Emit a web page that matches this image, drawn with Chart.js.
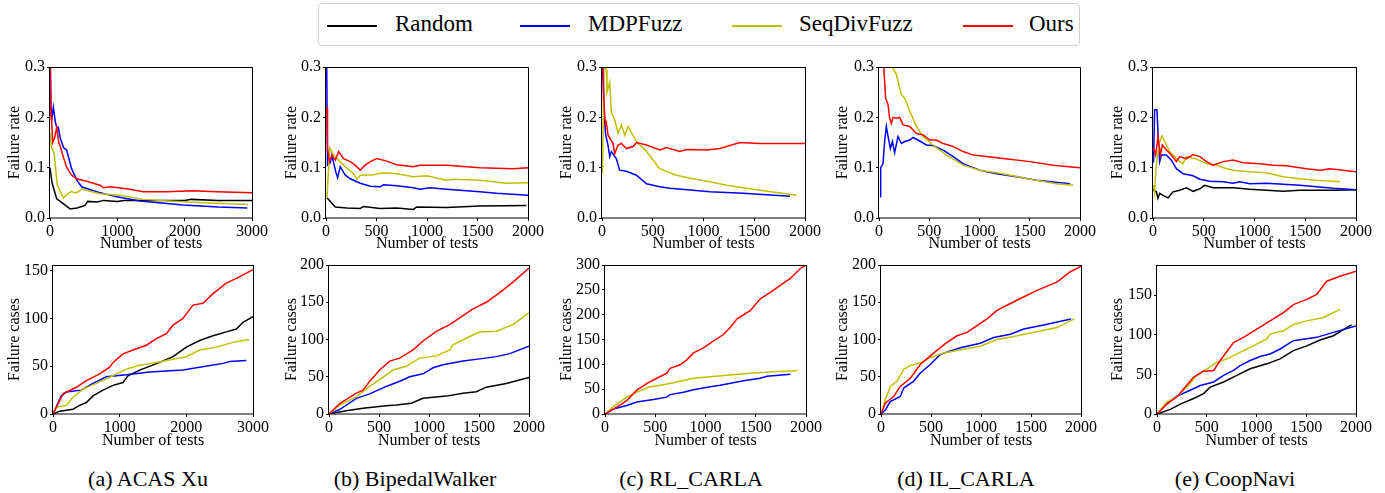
<!DOCTYPE html>
<html>
<head>
<meta charset="utf-8">
<script src="https://cdn.jsdelivr.net/npm/chart.js@4.4.1/dist/chart.umd.min.js"></script>
<style>
  html, body { margin:0; padding:0; background:#fff; }
  body { width:1385px; height:493px; position:relative; overflow:hidden; font-family:"Liberation Serif","Times New Roman",serif; }
  canvas { position:absolute; }
  #legend { position:absolute; left:318px; top:3px; width:760px; height:41px; border:1px solid #d0d0d0; border-radius:4px; box-sizing:content-box; }
  .lg-line { position:absolute; top:21px; height:2px; width:50px; }
  .lg-text { position:absolute; top:6px; font-size:23px; line-height:28px; color:#000; }
  .cap { position:absolute; top:465px; width:300px; text-align:center; font-size:22px; line-height:28px; color:#000; }
</style>
</head>
<body>
<div id="legend">
  <div class="lg-line" style="left:8px;background:#000"></div><div class="lg-text" style="left:76px">Random</div>
  <div class="lg-line" style="left:201px;background:#0000ff"></div><div class="lg-text" style="left:269px">MDPFuzz</div>
  <div class="lg-line" style="left:413px;background:#bfbf00"></div><div class="lg-text" style="left:480px">SeqDivFuzz</div>
  <div class="lg-line" style="left:644px;background:#ff0000"></div><div class="lg-text" style="left:710px">Ours</div>
</div>
<div class="cap" style="left:-2px">(a) ACAS Xu</div>
<div class="cap" style="left:265px">(b) BipedalWalker</div>
<div class="cap" style="left:541px">(c) RL_CARLA</div>
<div class="cap" style="left:816px">(d) IL_CARLA</div>
<div class="cap" style="left:1085px">(e) CoopNavi</div>

<canvas id="c1"></canvas><canvas id="c2"></canvas><canvas id="c3"></canvas><canvas id="c4"></canvas><canvas id="c5"></canvas>
<canvas id="c6"></canvas><canvas id="c7"></canvas><canvas id="c8"></canvas><canvas id="c9"></canvas><canvas id="c10"></canvas>

<script>
// ---------------- DATA ----------------
const seriesNames = ["Random", "MDPFuzz", "SeqDivFuzz", "Ours"];
const seriesColors = ["#000000", "#0000ff", "#bfbf00", "#ff0000"];
const captions = ["(a) ACAS Xu", "(b) BipedalWalker", "(c) RL_CARLA", "(d) IL_CARLA", "(e) CoopNavi"];
const rateTicks = [0.0, 0.1, 0.2, 0.3];

// (a) ACAS Xu - failure rate
const acasRate_Random = [[0,0.10],[30,0.07],[100,0.038],[200,0.028],[300,0.018],[400,0.02],[450,0.022],[520,0.025],[560,0.033],[700,0.032],[800,0.035],[1000,0.033],[1100,0.035],[1500,0.035],[2000,0.035],[2100,0.037],[2500,0.035],[3000,0.035]];
const acasRate_MDPFuzz = [[0,0.35],[15,0.22],[30,0.2],[50,0.22],[80,0.19],[100,0.18],[124,0.18],[150,0.16],[200,0.14],[247,0.135],[321,0.098],[400,0.075],[470,0.062],[692,0.052],[989,0.042],[1335,0.034],[1977,0.026],[2500,0.022],[2930,0.02]];
const acasRate_SeqDivFuzz = [[0,0.17],[20,0.14],[60,0.13],[109,0.065],[198,0.04],[260,0.048],[321,0.053],[370,0.05],[420,0.052],[470,0.058],[593,0.053],[742,0.048],[1038,0.045],[1384,0.037],[2027,0.032],[2941,0.027]];
const acasRate_Ours = [[0,0.35],[15,0.2],[25,0.19],[40,0.15],[70,0.16],[100,0.18],[130,0.15],[148,0.144],[200,0.12],[247,0.101],[320,0.085],[395,0.078],[543,0.073],[742,0.065],[800,0.06],[890,0.062],[1137,0.058],[1384,0.052],[1730,0.052],[2126,0.054],[2472,0.052],[3000,0.05]];
// (a) ACAS Xu - failure cases
const acasCases_Random = [[0,0],[100,3],[300,5],[400,9],[500,12],[600,19],[750,25],[900,30],[1050,33],[1125,40],[1300,46],[1600,54],[1800,60],[2000,70],[2200,77],[2400,82],[2600,86],[2750,89],[2850,96],[3000,102]];
const acasCases_MDPFuzz = [[0,0],[125,19],[200,23],[425,25],[600,32],[800,39],[1100,41],[1450,44],[1950,46],[2200,49],[2550,53],[2650,55],[2900,56]];
const acasCases_SeqDivFuzz = [[0,0],[50,7],[200,9],[300,17.5],[450,26],[650,32],[850,38.5],[1100,47],[1300,51],[1550,54],[1700,56],[2000,60],[2200,67],[2450,70],[2700,75],[2940,78]];
const acasCases_Ours = [[0,0],[150,21],[200,23],[350,28],[500,35],[700,42],[850,49],[900,54],[1050,63],[1200,67],[1400,72],[1550,79],[1700,84],[1800,93],[1950,100],[2100,114],[2250,116],[2400,126],[2600,137],[2750,142],[3000,151]];

// (b) BipedalWalker - failure rate
const bipedRate_Random = [[10,0.04],[92,0.022],[207,0.02],[339,0.019],[372,0.023],[536,0.019],[700,0.02],[865,0.017],[898,0.022],[1194,0.021],[1523,0.024],[1984,0.025]];
const bipedRate_MDPFuzz = [[5,0.35],[15,0.105],[43,0.11],[59,0.125],[92,0.095],[115,0.08],[141,0.102],[191,0.085],[240,0.078],[339,0.069],[438,0.063],[536,0.062],[569,0.066],[700,0.064],[865,0.06],[931,0.057],[1030,0.06],[1194,0.057],[1523,0.052],[1688,0.049],[2000,0.045]];
const bipedRate_SeqDivFuzz = [[10,0.04],[36,0.14],[76,0.125],[174,0.105],[273,0.088],[306,0.077],[339,0.085],[470,0.086],[569,0.09],[700,0.088],[865,0.082],[996,0.084],[1194,0.075],[1260,0.077],[1523,0.075],[1786,0.069],[2000,0.07]];
const bipedRate_Ours = [[10,0.22],[15,0.14],[33,0.112],[59,0.125],[92,0.115],[125,0.132],[174,0.118],[240,0.112],[289,0.105],[339,0.095],[388,0.105],[438,0.112],[503,0.118],[602,0.113],[700,0.106],[865,0.102],[931,0.105],[1194,0.105],[1523,0.1],[1852,0.098],[2000,0.1]];
// (b) BipedalWalker - failure cases
const bipedCases_Random = [[0,0],[173,4.5],[340,7.7],[573,11],[673,12],[823,14.4],[940,21],[1173,24],[1340,28],[1473,30],[1573,36],[1773,41],[2000,49]];
const bipedCases_MDPFuzz = [[0,0],[107,6],[273,21],[407,27],[573,37],[707,44],[807,50],[940,54],[1040,62],[1140,66],[1340,71],[1507,74],[1673,77],[1807,81],[2000,91]];
const bipedCases_SeqDivFuzz = [[0,0],[107,12],[273,23],[407,37],[507,46],[640,59],[773,64],[907,75],[1073,78],[1207,86],[1240,93],[1407,104],[1507,110],[1673,111],[1840,120],[2000,136]];
const bipedCases_Ours = [[0,0],[107,14],[273,28],[340,32],[407,44],[507,59],[607,71],[707,75],[840,86],[940,98],[1073,111],[1207,120],[1307,129],[1440,141],[1573,150],[1707,163],[1840,177],[2000,196]];

// (c) RL_CARLA - failure rate
const rlRate_MDPFuzz = [[0,0.35],[20,0.21],[36,0.165],[59,0.145],[76,0.122],[92,0.132],[141,0.118],[174,0.095],[240,0.093],[339,0.085],[438,0.068],[569,0.062],[668,0.059],[898,0.055],[1063,0.052],[1391,0.049],[1852,0.043]];
const rlRate_SeqDivFuzz = [[5,0.09],[20,0.3],[43,0.295],[49,0.25],[76,0.27],[92,0.21],[125,0.195],[158,0.168],[191,0.185],[224,0.165],[257,0.182],[339,0.152],[438,0.132],[569,0.098],[734,0.085],[898,0.078],[1063,0.072],[1227,0.065],[1556,0.055],[1918,0.045]];
const rlRate_Ours = [[0,0.35],[10,0.3],[20,0.225],[33,0.185],[43,0.19],[59,0.165],[109,0.148],[125,0.128],[158,0.145],[191,0.148],[240,0.138],[306,0.142],[339,0.15],[438,0.145],[569,0.135],[635,0.14],[766,0.132],[832,0.136],[1030,0.135],[1161,0.138],[1359,0.15],[1556,0.148],[1753,0.148],[2000,0.148]];
// (c) RL_CARLA - failure cases
const rlCases_MDPFuzz = [[0,0],[83,10],[216,17],[316,24],[482,29],[615,34],[648,39],[781,44],[880,49],[1047,55],[1146,58],[1379,67],[1545,72],[1611,76],[1844,80]];
const rlCases_SeqDivFuzz = [[0,0],[83,15],[216,34],[316,44],[449,55],[548,58],[681,63],[880,72],[1047,75],[1213,78],[1445,82],[1678,85],[1910,87]];
const rlCases_Ours = [[0,0],[116,14],[216,27],[316,48],[415,61],[515,72],[615,82],[648,92],[748,99],[814,109],[880,123],[980,133],[1080,147],[1179,160],[1246,174],[1312,191],[1445,208],[1545,232],[1645,245],[1744,259],[1844,273],[1944,293],[2000,300]];

// (d) IL_CARLA - failure rate
const ilRate_MDPFuzz = [[13,0.042],[17,0.1],[40,0.108],[56,0.152],[73,0.182],[90,0.162],[113,0.138],[133,0.152],[156,0.13],[189,0.162],[223,0.148],[256,0.152],[306,0.155],[339,0.16],[405,0.153],[472,0.145],[538,0.144],[638,0.135],[738,0.122],[837,0.108],[1003,0.095],[1169,0.088],[1369,0.082],[1568,0.075],[1900,0.068]];
const ilRate_SeqDivFuzz = [[100,0.35],[133,0.3],[173,0.285],[189,0.272],[223,0.245],[256,0.238],[306,0.212],[372,0.182],[439,0.162],[538,0.145],[671,0.125],[837,0.105],[1003,0.095],[1169,0.09],[1336,0.084],[1502,0.077],[1767,0.068],[1934,0.065]];
const ilRate_Ours = [[40,0.35],[47,0.3],[66,0.238],[90,0.225],[106,0.198],[123,0.188],[140,0.2],[173,0.198],[206,0.2],[239,0.185],[306,0.182],[372,0.168],[439,0.165],[505,0.155],[571,0.155],[638,0.148],[738,0.142],[837,0.132],[937,0.125],[1070,0.122],[1236,0.118],[1502,0.112],[1734,0.105],[2000,0.1]];
// (d) IL_CARLA - failure cases
const ilCases_MDPFuzz = [[0,0],[43,5.4],[93,16.7],[193,23.5],[227,34.8],[327,44],[393,55],[493,66.5],[593,80],[693,84.6],[793,89],[993,95],[1127,102.7],[1293,107],[1427,114],[1627,119.5],[1900,127.6]];
const ilCases_SeqDivFuzz = [[0,0],[43,19],[93,37],[160,44],[227,60],[293,65],[393,69],[493,75.6],[627,82],[827,87],[993,91],[1160,100],[1327,104],[1493,108.6],[1760,116],[1933,127.6]];
const ilCases_Ours = [[0,0],[43,14.5],[127,23.5],[193,37],[293,48],[393,66.5],[493,78],[593,89],[660,96],[760,105],[860,109.5],[960,118.5],[1060,127.6],[1160,139],[1260,146],[1393,155],[1560,166],[1760,177],[1893,191],[2000,198]];

// (e) CoopNavi - failure rate
const coopRate_Random = [[5,0.065],[10,0.055],[33,0.052],[49,0.039],[66,0.049],[99,0.045],[148,0.04],[197,0.052],[263,0.055],[329,0.06],[395,0.053],[461,0.058],[510,0.065],[592,0.06],[789,0.06],[954,0.057],[1118,0.055],[1283,0.053],[1447,0.055],[1776,0.055],[2000,0.056]];
const coopRate_MDPFuzz = [[5,0.11],[16,0.215],[39,0.215],[53,0.152],[66,0.112],[82,0.125],[132,0.125],[181,0.115],[230,0.098],[296,0.088],[395,0.084],[461,0.077],[559,0.073],[691,0.072],[789,0.069],[855,0.072],[954,0.068],[1118,0.069],[1447,0.065],[1776,0.059],[2000,0.056]];
const coopRate_SeqDivFuzz = [[3,0.065],[15,0.05],[30,0.1],[59,0.148],[89,0.163],[132,0.145],[164,0.132],[197,0.125],[247,0.115],[296,0.108],[329,0.122],[428,0.117],[526,0.108],[625,0.105],[724,0.098],[789,0.095],[954,0.092],[1118,0.09],[1283,0.082],[1447,0.078],[1612,0.075],[1842,0.072]];
const coopRate_Ours = [[5,0.14],[26,0.125],[49,0.162],[72,0.125],[92,0.145],[132,0.135],[181,0.125],[230,0.112],[263,0.122],[329,0.118],[395,0.126],[461,0.122],[526,0.112],[592,0.105],[691,0.112],[789,0.115],[888,0.11],[1053,0.108],[1184,0.105],[1316,0.104],[1513,0.098],[1645,0.095],[1743,0.098],[2000,0.092]];
// (e) CoopNavi - failure cases
const coopCases_Random = [[0,0],[134,5.8],[234,12.5],[368,19.6],[468,25.8],[535,34],[669,40.4],[803,48.8],[936,57],[1104,63.3],[1237,69.6],[1371,80],[1505,86],[1639,93.3],[1773,98.8],[1906,109],[1956,112.5]];
const coopCases_MDPFuzz = [[0,0],[100,13.3],[201,22.5],[334,30],[435,36],[569,40.4],[669,48.8],[769,55],[836,61],[936,67.5],[1037,72.5],[1137,75.8],[1237,82],[1371,92.5],[1605,96.7],[1773,103],[2000,111]];
const coopCases_SeqDivFuzz = [[0,0],[100,15.4],[201,21.7],[301,34],[401,48.8],[502,57],[602,65.4],[702,69.6],[803,75.8],[936,84],[1104,94.6],[1137,100.8],[1271,105],[1371,113],[1505,117.5],[1672,121.7],[1839,132]];
const coopCases_Ours = [[0,0],[100,12.5],[201,21.7],[284,34],[368,46.7],[468,54],[569,55],[635,67.5],[769,90],[870,96.7],[1003,107],[1137,117.5],[1271,128],[1371,138],[1505,144.6],[1605,150.8],[1706,167.5],[1839,173.8],[2000,180]];

// ---------------- LAYOUT ----------------
const FONT = "'Liberation Serif', 'Times New Roman', serif";
const PAD_L = 50, PAD_T = 12, PAD_R = 26, PAD_B = 50;

const panels = [
  { id:"c1", area:[50,67,202,151], xMax:3000, xStep:1000, yMax:0.3, yStep:0.1, rate:true, ytitle:"Failure rate", titleOff:35,
    data:[acasRate_Random, acasRate_MDPFuzz, acasRate_SeqDivFuzz, acasRate_Ours] },
  { id:"c2", area:[326,67,202,151], xMax:2000, xStep:500, yMax:0.3, yStep:0.1, rate:true, ytitle:"Failure rate", titleOff:34,
    data:[bipedRate_Random, bipedRate_MDPFuzz, bipedRate_SeqDivFuzz, bipedRate_Ours] },
  { id:"c3", area:[602,67,203,151], xMax:2000, xStep:500, yMax:0.3, yStep:0.1, rate:true, ytitle:"Failure rate", titleOff:35,
    data:[null, rlRate_MDPFuzz, rlRate_SeqDivFuzz, rlRate_Ours] },
  { id:"c4", area:[879,67,201,151], xMax:2000, xStep:500, yMax:0.3, yStep:0.1, rate:true, ytitle:"Failure rate", titleOff:36,
    data:[null, ilRate_MDPFuzz, ilRate_SeqDivFuzz, ilRate_Ours] },
  { id:"c5", area:[1153,67,203,151], xMax:2000, xStep:500, yMax:0.3, yStep:0.1, rate:true, ytitle:"Failure rate", titleOff:35,
    data:[coopRate_Random, coopRate_MDPFuzz, coopRate_SeqDivFuzz, coopRate_Ours] },
  { id:"c6", area:[53,265,200,149], xMax:3000, xStep:1000, yMax:156, yStep:50, rate:false, ytitle:"Failure cases", titleOff:38,
    data:[acasCases_Random, acasCases_MDPFuzz, acasCases_SeqDivFuzz, acasCases_Ours] },
  { id:"c7", area:[329,265,200,149], xMax:2000, xStep:500, yMax:200, yStep:50, rate:false, ytitle:"Failure cases", titleOff:37,
    data:[bipedCases_Random, bipedCases_MDPFuzz, bipedCases_SeqDivFuzz, bipedCases_Ours] },
  { id:"c8", area:[605,265,201,149], xMax:2000, xStep:500, yMax:300, yStep:50, rate:false, ytitle:"Failure cases", titleOff:38,
    data:[null, rlCases_MDPFuzz, rlCases_SeqDivFuzz, rlCases_Ours] },
  { id:"c9", area:[881,265,200,149], xMax:2000, xStep:500, yMax:200, yStep:50, rate:false, ytitle:"Failure cases", titleOff:38,
    data:[null, ilCases_MDPFuzz, ilCases_SeqDivFuzz, ilCases_Ours] },
  { id:"c10", area:[1157,265,199,149], xMax:2000, xStep:500, yMax:188, yStep:50, rate:false, ytitle:"Failure cases", titleOff:39,
    data:[coopCases_Random, coopCases_MDPFuzz, coopCases_SeqDivFuzz, coopCases_Ours] }
];

const frame = {
  id: "frame",
  afterDatasetsDraw(chart) {
    const a = chart.chartArea, ctx = chart.ctx;
    ctx.save();
    ctx.strokeStyle = "#000";
    ctx.lineWidth = 1;
    ctx.strokeRect(Math.round(a.left) - 0.5, Math.round(a.top) + 0.5, Math.round(a.right - a.left) + 1, Math.round(a.bottom - a.top) - 0.5);
    ctx.restore();
  }
};

Chart.defaults.font.family = FONT;
Chart.defaults.color = "#000";

panels.forEach(p => {
  const [L, T, W, H] = p.area;
  const cv = document.getElementById(p.id);
  const cw = W + PAD_L + PAD_R, ch = H + PAD_T + PAD_B;
  cv.width = cw; cv.height = ch;
  cv.style.left = (L - PAD_L) + "px";
  cv.style.top = (T - PAD_T) + "px";
  cv.style.width = cw + "px"; cv.style.height = ch + "px";

  const datasets = [];
  p.data.forEach((d, i) => {
    if (!d) return;
    datasets.push({
      label: seriesNames[i],
      data: d.map(v => ({ x: v[0], y: v[1] })),
      borderColor: seriesColors[i],
      backgroundColor: seriesColors[i],
      borderWidth: 1.5,
      pointRadius: 0,
      tension: 0,
      fill: false,
      order: 3 - i
    });
  });

  const tickFont = { family: FONT, size: 16 };
  new Chart(cv, {
    type: "line",
    data: { datasets },
    options: {
      responsive: false,
      animation: false,
      devicePixelRatio: 1,
      layout: { padding: { left: 0, top: PAD_T, right: PAD_R, bottom: 0 } },
      plugins: { legend: { display: false }, tooltip: { enabled: false } },
      scales: {
        x: {
          type: "linear", min: 0, max: p.xMax,
          ticks: { stepSize: p.xStep, font: tickFont, color: "#000", padding: 1, maxRotation: 0, includeBounds: false,
                   callback: v => String(v) },
          grid: { display: true, drawOnChartArea: false, drawTicks: true, tickLength: 3, color: "#000" },
          border: { display: false },
          title: { display: true, text: "Number of tests", font: { family: FONT, size: 16 }, color: "#000",
                   padding: { top: 0, bottom: PAD_B - (p.rate ? 26 : 27) - 9.6 } },
          afterFit: s => { s.height = PAD_B; }
        },
        y: {
          type: "linear", min: 0, max: p.yMax,
          ticks: { stepSize: p.yStep, font: tickFont, color: "#000", padding: 2, includeBounds: false,
                   callback: v => p.rate ? Number(v).toFixed(1) : String(v) },
          grid: { display: true, drawOnChartArea: false, drawTicks: true, tickLength: 3, color: "#000" },
          border: { display: false },
          title: { display: true, text: p.ytitle, font: { family: FONT, size: 16 }, color: "#000",
                   padding: { top: PAD_L - p.titleOff - 9.6, bottom: 0 } },
          afterFit: s => { s.width = PAD_L; }
        }
      }
    },
    plugins: [frame]
  });
});
</script>
</body>
</html>
